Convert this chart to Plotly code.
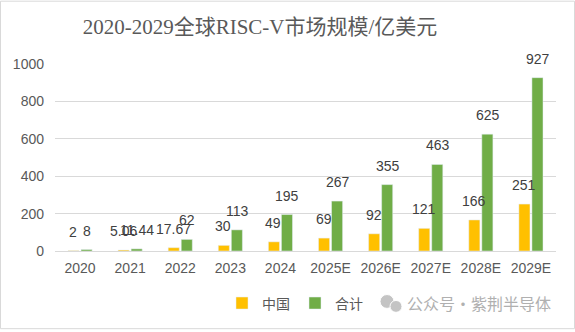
import plotly.graph_objects as go

years = ["2020", "2021", "2022", "2023", "2024", "2025E", "2026E", "2027E", "2028E", "2029E"]
china = [2, 5.06, 17.67, 30, 49, 69, 92, 121, 166, 251]
total = [8, 11.44, 62, 113, 195, 267, 355, 463, 625, 927]
china_labels = ["2", "5.06", "17.67", "30", "49", "69", "92", "121", "166", "251"]
total_labels = ["8", "11.44", "62", "113", "195", "267", "355", "463", "625", "927"]
yticks = [0, 200, 400, 600, 800, 1000]

W, H = 575, 332
L, R, T, B = 55, 19, 64, 79
pw, ph = W - L - R, H - T - B

def px(x, y):
    return (x - L) / pw, (H - B - y) / ph

fig = go.Figure()
fig.add_bar(x=years, y=china, name="中国", marker_color="#FFC000")
fig.add_bar(x=years, y=total, name="合计", marker_color="#70AD47")

lab_font = dict(family="Liberation Sans, Arial, sans-serif", size=14, color="#404040")
for i, (v, t) in enumerate(zip(china, china_labels)):
    fig.add_annotation(x=i, y=v, text=t, showarrow=False, xshift=-7, yshift=19,
                       yanchor="middle", font=lab_font)
for i, (v, t) in enumerate(zip(total, total_labels)):
    fig.add_annotation(x=i, y=v, text=t, showarrow=False, xshift=7, yshift=19,
                       yanchor="middle", font=lab_font)

# watermark
fig.add_annotation(xref="paper", yref="paper", x=px(405, 306)[0], y=px(405, 306)[1],
                   xanchor="left", yanchor="middle", showarrow=False,
                   text="公众号·紫荆半导体",
                   font=dict(family="Noto Sans CJK SC", size=16, color="#b0b0b0"))
for cx, cy, r in [(387, 304, 7), (396, 309, 6)]:
    x0, y0 = px(cx - r, cy + r)
    x1, y1 = px(cx + r, cy - r)
    fig.add_shape(type="circle", xref="paper", yref="paper", x0=x0, y0=y0, x1=x1, y1=y1,
                  fillcolor="#c4c4c4", line=dict(color="white", width=1))

# outer border
fig.add_shape(type="rect", xref="paper", yref="paper",
              x0=px(0.5, 0)[0], y0=px(0, H - 0.5)[1], x1=px(W - 0.5, 0)[0], y1=px(0, 0.5)[1],
              line=dict(color="#d9d9d9", width=1))

fig.update_layout(
    width=W, height=H,
    margin=dict(l=L, r=R, t=T, b=B),
    paper_bgcolor="white", plot_bgcolor="white",
    barmode="group", bargap=0.48, bargroupgap=0.15,
    title=dict(text="2020-2029全球RISC-V市场规模/亿美元", x=260 / W, y=1 - 27 / H,
               xanchor="center", yanchor="middle",
               font=dict(family="Liberation Serif, Noto Sans CJK SC", size=21, color="#595959")),
    xaxis=dict(type="category", range=[-0.5, len(years) - 0.5], showgrid=False,
               showline=True, linecolor="#d9d9d9",
               tickfont=dict(family="Liberation Sans, Arial", size=14, color="#595959"),
               ticks="", ticklabelstandoff=4),
    yaxis=dict(range=[0, 1000], tickvals=yticks, showgrid=True, gridcolor="#d9d9d9",
               zeroline=False, ticks="", ticklabelstandoff=10,
               tickfont=dict(family="Liberation Sans, Arial", size=14, color="#595959")),
    legend=dict(orientation="h", xref="paper", x=px(222, 0)[0], y=px(0, 306)[1],
                xanchor="left", yanchor="middle",
                font=dict(family="Noto Sans CJK SC", size=14, color="#595959"),
                itemwidth=30, tracegroupgap=0),
    showlegend=True,
)

fig.write_html("out.html")
